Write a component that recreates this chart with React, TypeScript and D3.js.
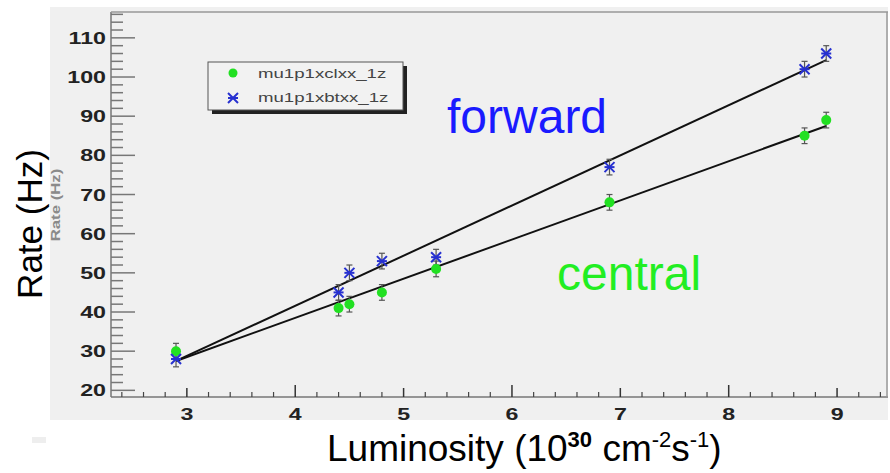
import React from "react";
import * as d3 from "d3";

// Luminosity values (10^30 cm^-2 s^-1)
const luminosity = [2.9, 4.4, 4.5, 4.8, 5.3, 6.9, 8.7, 8.9];
// Trigger rates (Hz)
const centralRate = [30, 41, 42, 45, 51, 68, 85, 89];
const forwardRate = [28, 45, 50, 53, 54, 77, 102, 106];
const centralErr = [2, 2, 2, 2, 2, 2, 2, 2];
const forwardErr = [2, 2, 2, 2, 2, 2, 2, 2];
// Linear fits: rate = intercept + slope * luminosity
const fitNames = ["central", "forward"];
const fitSlope = [10.0, 12.8];
const fitIntercept = [-1.5, -9.62];
const fitRange = [2.9, 8.9];
// Axis ticks
const xTickLabels = [3, 4, 5, 6, 7, 8, 9];
const yTickLabels = [20, 30, 40, 50, 60, 70, 80, 90, 100, 110];
const legendNames = ["mu1p1xclxx_1z", "mu1p1xbtxx_1z"];

const W = 890;
const H = 473;
const SX = 1.45; // horizontal stretch of the plot lettering

const x = d3.scaleLinear().domain([2.3, 9.47]).range([111, 888]);
const y = d3.scaleLinear().domain([18.3, 116.6]).range([397, 12]);

const GREEN = "#22e022";
const BLUE = "#2630d0";
const AXIS = "#777";

function Star({ cx, cy }: { cx: number; cy: number }) {
  const s = 5;
  return (
    <g stroke={BLUE} strokeWidth={2}>
      <line x1={cx - s} y1={cy - s} x2={cx + s} y2={cy + s} />
      <line x1={cx - s} y1={cy + s} x2={cx + s} y2={cy - s} />
      <line x1={cx - s} y1={cy} x2={cx + s} y2={cy} />
    </g>
  );
}

function ErrBar({ xv, yv, e }: { xv: number; yv: number; e: number }) {
  const px = x(xv);
  const y1 = y(yv + e);
  const y2 = y(yv - e);
  return (
    <g stroke="#555" strokeWidth={1.2}>
      <line x1={px} x2={px} y1={y1} y2={y2} />
      <line x1={px - 3} x2={px + 3} y1={y1} y2={y1} />
      <line x1={px - 3} x2={px + 3} y1={y2} y2={y2} />
    </g>
  );
}

export default function App() {
  const yMinor = d3.range(20, 117, 2).filter((v) => v % 10 !== 0);
  const xMinor = d3.range(2.4, 9.47, 0.2).filter((v) => Math.abs(v - Math.round(v)) > 0.01);

  return (
    <svg
      width={W}
      height={H}
      style={{ position: "absolute", left: 0, top: 0, background: "#fff" }}
      fontFamily="Liberation Sans, Arial, sans-serif"
    >
      {/* plot panel */}
      <rect x={50} y={7} width={838} height={413} fill="#f0f0f0" />
      <rect x={32} y={437} width={14} height={6} fill="#eeeeee" />

      {/* faint original axis title */}
      <text
        transform="translate(60,205) rotate(-90) scale(1.4,1)"
        textAnchor="middle"
        fontSize={12}
        fontWeight="bold"
        fill="#8a8a8a"
      >
        Rate (Hz)
      </text>

      {/* frame */}
      <line x1={111} x2={111} y1={12} y2={397} stroke={AXIS} strokeWidth={1.5} />
      <line x1={111} x2={888} y1={397} y2={397} stroke={AXIS} strokeWidth={1.5} />
      <line x1={111} x2={888} y1={12} y2={12} stroke="#999" strokeWidth={1.5} />
      <line x1={887} x2={887} y1={12} y2={397} stroke="#999" strokeWidth={1.5} />

      {/* y ticks */}
      {yTickLabels.map((v) => (
        <g key={"ym" + v}>
          <line x1={111} x2={135} y1={y(v)} y2={y(v)} stroke={AXIS} strokeWidth={1.5} />
          <text
            transform={`translate(106,${y(v) + 6}) scale(${SX},1)`}
            textAnchor="end"
            fontSize={16}
            fontWeight="bold"
            fill="#222"
          >
            {v}
          </text>
        </g>
      ))}
      {yMinor.map((v) => (
        <line key={"yn" + v} x1={111} x2={123} y1={y(v)} y2={y(v)} stroke={AXIS} strokeWidth={1.5} />
      ))}

      {/* x ticks */}
      {xTickLabels.map((v) => (
        <g key={"xm" + v}>
          <line
            x1={x(v)}
            x2={x(v)}
            y1={397}
            y2={v % 2 === 0 ? 385 : 388}
            stroke="#333"
            strokeWidth={1.5}
          />
          <text
            transform={`translate(${x(v)},420) scale(${SX},1)`}
            textAnchor="middle"
            fontSize={16}
            fontWeight="bold"
            fill="#222"
          >
            {v}
          </text>
        </g>
      ))}
      {xMinor.map((v) => (
        <line key={"xn" + v.toFixed(1)} x1={x(v)} x2={x(v)} y1={397} y2={392} stroke="#444" strokeWidth={1.2} />
      ))}

      {/* legend */}
      <rect x={212} y={66} width={195} height={48} fill="#222" />
      <rect x={208} y={62} width={195} height={48} fill="#f2f2f2" stroke="#555" strokeWidth={1} />
      <circle cx={233} cy={73} r={4.5} fill={GREEN} />
      <Star cx={233} cy={98} />
      {legendNames.map((n, i) => (
        <text
          key={n}
          transform={`translate(258,${78 + i * 24}) scale(1.38,1)`}
          fontSize={13.5}
          fill="#444"
        >
          {n}
        </text>
      ))}

      {/* fit lines */}
      {fitNames.map((n, i) => {
        const pts: [number, number][] = fitRange.map((v) => [x(v), y(fitIntercept[i] + fitSlope[i] * v)]);
        return (
          <path
            key={n}
            d={d3.line()(pts) || ""}
            stroke="#111"
            strokeWidth={2}
            fill="none"
          />
        );
      })}

      {/* error bars */}
      {luminosity.map((v, i) => (
        <ErrBar key={"ec" + i} xv={v} yv={centralRate[i]} e={centralErr[i]} />
      ))}
      {luminosity.map((v, i) => (
        <ErrBar key={"ef" + i} xv={v} yv={forwardRate[i]} e={forwardErr[i]} />
      ))}

      {/* markers */}
      {luminosity.map((v, i) => (
        <circle key={"c" + i} cx={x(v)} cy={y(centralRate[i])} r={5} fill={GREEN} />
      ))}
      {luminosity.map((v, i) => (
        <Star key={"f" + i} cx={x(v)} cy={y(forwardRate[i])} />
      ))}

      {/* annotations */}
      <text x={447} y={133} fontSize={48} fill="#1a1aff">
        forward
      </text>
      <text x={557} y={290} fontSize={48} fill="#22ee22">
        central
      </text>

      {/* axis titles */}
      <text transform="translate(42,224) rotate(-90)" textAnchor="middle" fontSize={35} fill="#000">
        Rate (Hz)
      </text>
      <text x={327} y={461} fontSize={37} fill="#000">
        Luminosity (10
        <tspan fontSize={22} fontWeight="bold" dy={-14}>
          30
        </tspan>
        <tspan fontSize={37} dy={14}>
          {" "}cm
        </tspan>
        <tspan fontSize={22} dy={-14}>
          -2
        </tspan>
        <tspan fontSize={37} dy={14}>
          s
        </tspan>
        <tspan fontSize={22} dy={-14}>
          -1
        </tspan>
        <tspan fontSize={37} dy={14}>
          )
        </tspan>
      </text>
    </svg>
  );
}
